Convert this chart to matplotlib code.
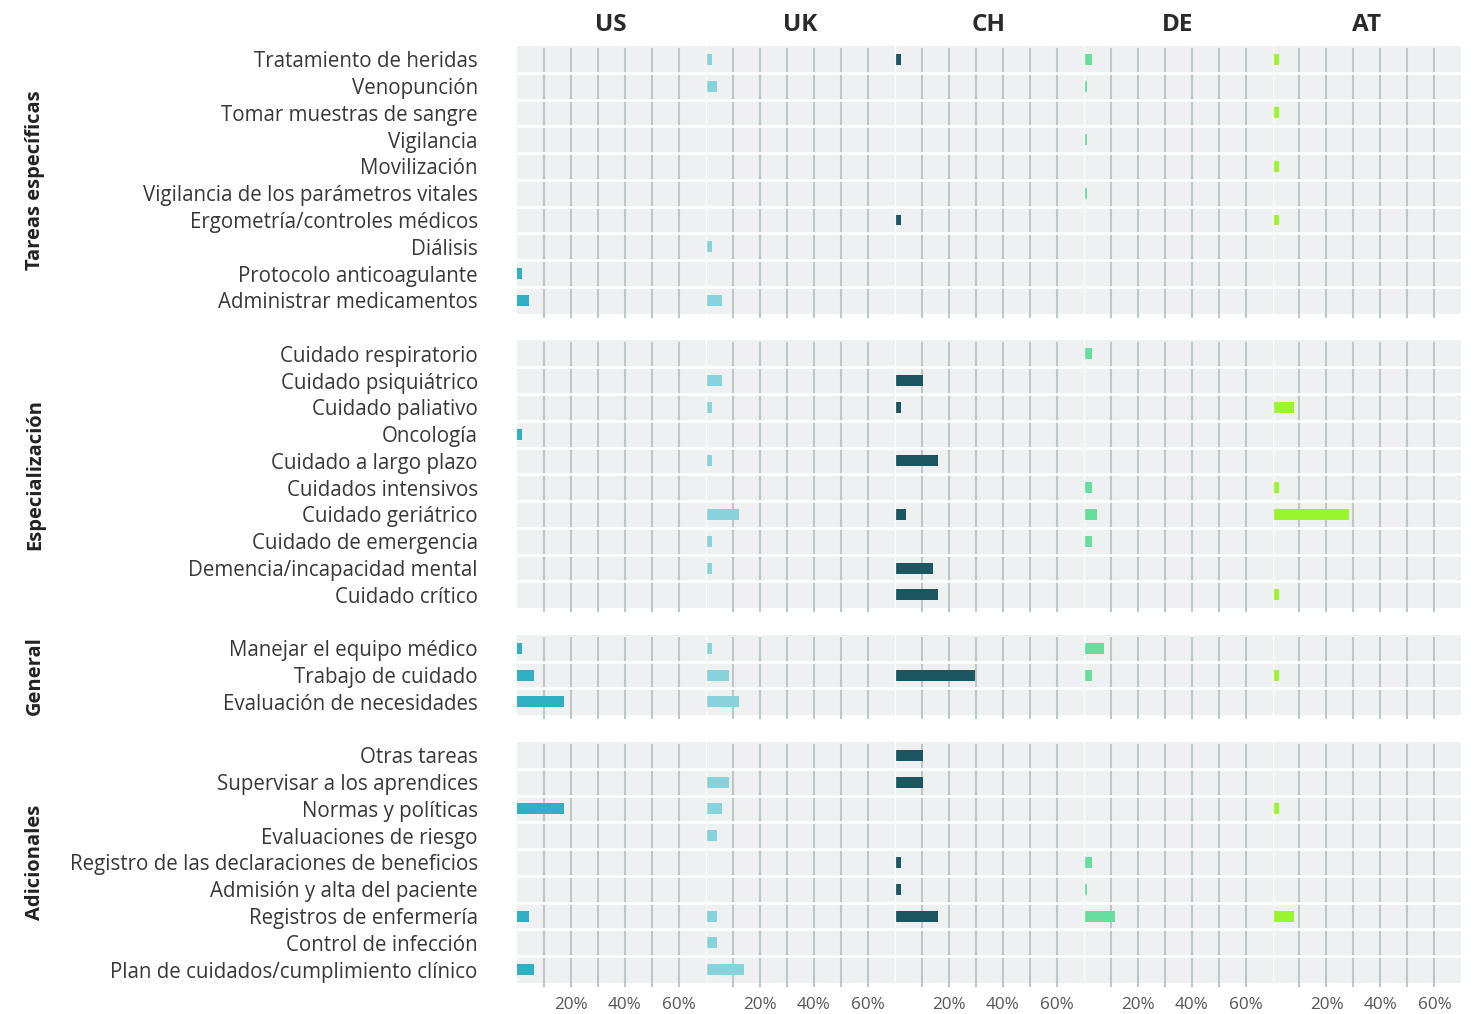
import matplotlib.pyplot as plt

plt.rcParams['font.family'] = ['Open Sans', 'DejaVu Sans']

# --- data -------------------------------------------------------------
countries = ['US', 'UK', 'CH', 'DE', 'AT']
bar_colors = ['#31B0C4', '#88D2DC', '#1C5661', '#66DE9E', '#99F52E']

group_names = ['Tareas específicas', 'Especialización', 'General', 'Adicionales']

tareas_labels = ['Tratamiento de heridas', 'Venopunción', 'Tomar muestras de sangre',
                 'Vigilancia', 'Movilización', 'Vigilancia de los parámetros vitales',
                 'Ergometría/controles médicos', 'Diálisis', 'Protocolo anticoagulante',
                 'Administrar medicamentos']
tareas_us = [0, 0, 0, 0, 0, 0, 0, 0, 2, 4.5]
tareas_uk = [2.3, 4.1, 0, 0, 0, 0, 0, 2.3, 0, 5.9]
tareas_ch = [2.4, 0, 0, 0, 0, 0, 2.4, 0, 0, 0]
tareas_de = [3.0, 1.3, 0, 1.3, 0, 1.3, 0, 0, 0, 0]
tareas_at = [2.5, 0, 2.5, 0, 2.5, 0, 2.5, 0, 0, 0]

espec_labels = ['Cuidado respiratorio', 'Cuidado psiquiátrico', 'Cuidado paliativo',
                'Oncología', 'Cuidado a largo plazo', 'Cuidados intensivos',
                'Cuidado geriátrico', 'Cuidado de emergencia',
                'Demencia/incapacidad mental', 'Cuidado crítico']
espec_us = [0, 0, 0, 2, 0, 0, 0, 0, 0, 0]
espec_uk = [0, 5.9, 2.3, 0, 2.3, 0, 12.4, 2.3, 2.3, 0]
espec_ch = [0, 10.6, 2.4, 0, 16.1, 0, 4.4, 0, 14.3, 16.1]
espec_de = [3.0, 0, 0, 0, 0, 3.0, 4.8, 3.0, 0, 0]
espec_at = [0, 0, 8.1, 0, 0, 2.5, 28.4, 0, 0, 2.5]

general_labels = ['Manejar el equipo médico', 'Trabajo de cuidado', 'Evaluación de necesidades']
general_us = [2, 6.3, 17.6]
general_uk = [2.3, 8.8, 12.4]
general_ch = [0, 29.9, 0]
general_de = [7.4, 3.0, 0]
general_at = [0, 2.5, 0]

adic_labels = ['Otras tareas', 'Supervisar a los aprendices', 'Normas y políticas',
               'Evaluaciones de riesgo', 'Registro de las declaraciones de beneficios',
               'Admisión y alta del paciente', 'Registros de enfermería',
               'Control de infección', 'Plan de cuidados/cumplimiento clínico']
adic_us = [0, 0, 17.6, 0, 0, 0, 4.6, 0, 6.3]
adic_uk = [0, 8.8, 5.9, 4.1, 0, 0, 4.1, 4.1, 14.3]
adic_ch = [10.6, 10.6, 0, 0, 2.4, 2.4, 16.1, 0, 0]
adic_de = [0, 0, 0, 0, 3.0, 1.3, 11.7, 0, 0]
adic_at = [0, 0, 2.5, 0, 0, 0, 8.1, 0, 0]

x_ticks = [20, 40, 60]
x_max = 70

groups = [
    (tareas_labels, [tareas_us, tareas_uk, tareas_ch, tareas_de, tareas_at]),
    (espec_labels, [espec_us, espec_uk, espec_ch, espec_de, espec_at]),
    (general_labels, [general_us, general_uk, general_ch, general_de, general_at]),
    (adic_labels, [adic_us, adic_uk, adic_ch, adic_de, adic_at]),
]

# --- layout (pixels) --------------------------------------------------
W, H = 1474, 1014
BG = '#EFF0F1'
GRID = '#BEC6C6'
ROW = 26.77
TOP = 46
PANEL_X0 = 516.7
PANEL_W = 188.95

fig = plt.figure(figsize=(W / 100, H / 100), dpi=100)


def px_axes(x0, y0, w, h):
    return fig.add_axes([x0 / W, 1 - (y0 + h) / H, w / W, h / H])


row_pos = 0
for g, (labels, series) in enumerate(groups):
    n = len(labels)
    top = TOP + row_pos * ROW
    height = n * ROW
    shift = 3 / height  # gridlines sit a few px lower than the grey block
    for c, vals in enumerate(series):
        ax = px_axes(PANEL_X0 + c * PANEL_W, top, PANEL_W, height)
        ax.set_facecolor(BG)
        ax.set_xlim(0, x_max)
        ax.set_ylim(n - 0.5, -0.5)
        for s in ax.spines.values():
            s.set_visible(False)

        for xg in range(10, x_max, 10):
            ax.axvline(xg, ymin=-shift, ymax=1 - shift, color=GRID, lw=1.5,
                       zorder=1, clip_on=False)
        for k in range(n - 1):
            ax.axhline(k + 0.5, color='white', lw=1.9, zorder=2)

        ax.barh(range(n), vals, height=0.41, color=bar_colors[c], zorder=3)
        if c > 0:
            ax.axvline(0, color='white', lw=1.6, zorder=4)

        if c == 0:
            ax.set_yticks(range(n))
            ax.set_yticklabels(labels, fontsize=14.8, color='#383838')
            ax.tick_params(axis='y', length=0, pad=28)
        else:
            ax.set_yticks([])

        if g == len(groups) - 1:
            ax.set_xticks(x_ticks)
            ax.set_xticklabels([f'{t}%' for t in x_ticks], fontsize=12.3, color='#555555')
            ax.tick_params(axis='x', length=0, pad=10)
        else:
            ax.set_xticks([])

    # group label on the left
    center = top + height / 2
    fig.text(35 / W, 1 - center / H, group_names[g], rotation=90, ha='center',
             va='center', fontsize=14.5, fontweight='bold', color='#222222')
    row_pos += n + 1

# country titles
for c, name in enumerate(countries):
    cx = PANEL_X0 + (c + 0.5) * PANEL_W
    fig.text(cx / W, 1 - 25 / H, name, ha='center', va='center', fontsize=17.5,
             fontweight='bold', color='#2A2A2A')

fig.savefig('out.png', dpi=100, facecolor='white')
